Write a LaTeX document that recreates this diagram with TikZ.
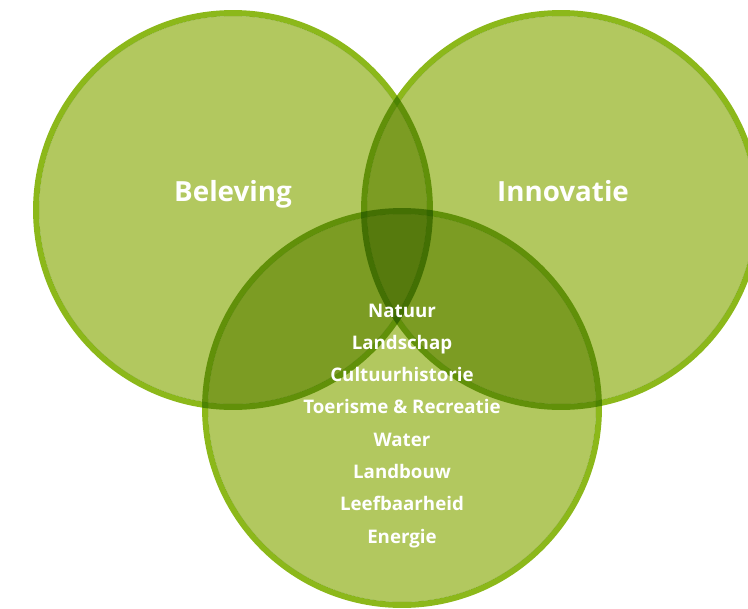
\documentclass[tikz,border=0pt]{standalone}
\usepackage{fontspec}
\setmainfont{Open Sans}
\definecolor{vlakgroen}{HTML}{B2C85F}
\definecolor{randgroen}{HTML}{8CB81A}
\tikzset{
  thema/.style={text=white, font=\bfseries\fontsize{15.8}{18}\selectfont, anchor=base},
  item/.style={text=white, font=\bfseries\fontsize{10.65}{12}\selectfont, anchor=base}
}
\begin{document}
\begin{tikzpicture}[x=0.02cm,y=-0.02cm]
     		\useasboundingbox (0,0) rectangle (748,609);
     		\clip (0,0) rectangle (748,609);
     		\fill[white] (0,0) rectangle (748,609);
     		% drie cirkels, kleuren vermenigvuldigen waar ze overlappen
     		\begin{scope}[blend mode=multiply]
     		\foreach \c in {(233,210),(561,210),(402,408)} {
     			\fill[randgroen, even odd rule] \c circle[radius=4cm] \c circle[radius=3.88cm];
     			\fill[vlakgroen] \c circle[radius=3.88cm];
     		}
     		\end{scope}
     		\node[thema] (beleving) at (233,201) {Beleving};
     		\node[thema] (innovatie) at (563,201) {Innovatie};
     		\foreach \t [count=\i] in {Natuur,Landschap,Cultuurhistorie,Toerisme \& Recreatie,Water,Landbouw,Leefbaarheid,Energie}
     			\node[item] (item\i) at (402,{317+32.3*(\i-1)}) {\t};
\end{tikzpicture}
\end{document}
